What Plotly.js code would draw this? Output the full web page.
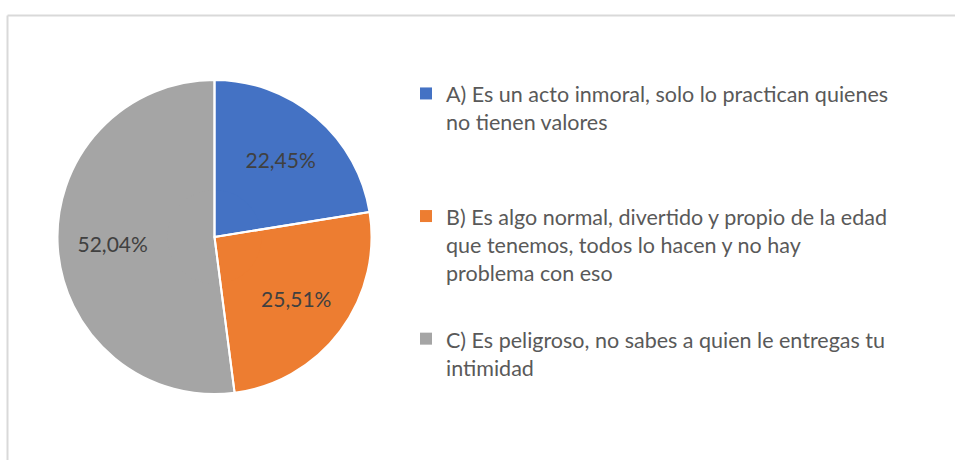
<!DOCTYPE html>
<html>
<head>
<meta charset="utf-8">
<script src="https://cdn.plot.ly/plotly-3.0.1.min.js"></script>
<style>
html,body{margin:0;padding:0;background:#fff;}
#chart{width:955px;height:460px;}
#chart .legendtext{font-size:21.5px !important;}
</style>
</head>
<body>
<div id="chart"></div>
<script>
const labels = [
  "A) Es un acto inmoral, solo lo practican quienes<br>no tienen valores<br> <br> ",
  "B) Es algo normal, divertido y propio de la edad<br>que tenemos, todos lo hacen y no hay<br>problema con eso<br> ",
  "C) Es peligroso, no sabes a quien le entregas tu<br>intimidad"
];
const values = [22.45, 25.51, 52.04];
const colors = ["#4472C4", "#ED7D31", "#A5A5A5"];

const W = 955, H = 460;
const dom = {x: [(214.5 - 157) / W, (214.5 + 157) / W], y: [(223 - 157) / H, (223 + 157) / H]};
const FONT = "Lato, 'Open Sans', sans-serif";
const common = {
  type: "pie", labels: labels, values: values, sort: false,
  direction: "clockwise", rotation: 0, hoverinfo: "none", domain: dom
};
// base pie: slice fills and legend swatches
const base = Object.assign({}, common, {
  marker: {colors: colors, line: {color: "#ffffff", width: 0}},
  textinfo: "none", showlegend: true
});
// ring carrying the percentage labels (placed further out, like Excel)
const ring = Object.assign({}, common, {
  hole: 0.3,
  marker: {colors: colors, line: {color: "#ffffff", width: 0}},
  texttemplate: "%{percent:.2%}",
  textposition: "inside",
  insidetextorientation: "horizontal",
  textfont: {family: FONT, size: 21, color: "#404040"},
  showlegend: false
});
// transparent pie on top drawing only the white separators
const sep = Object.assign({}, common, {
  marker: {colors: ["rgba(0,0,0,0)", "rgba(0,0,0,0)", "rgba(0,0,0,0)"], line: {color: "#ffffff", width: 2}},
  textinfo: "none", showlegend: false
});
const layout = {
  width: W, height: H,
  margin: {l: 0, r: 0, t: 0, b: 0},
  paper_bgcolor: "#ffffff",
  separators: ", ",
  showlegend: true,
  legend: {
    x: 406 / W, y: 1 - 72 / H, xanchor: "left", yanchor: "top",
    valign: "top",
    font: {family: FONT, size: 23, color: "#595959"},
    itemclick: false, itemdoubleclick: false
  },
  shapes: [
    {type: "line", xref: "paper", yref: "paper", x0: 7.5 / W, x1: 1, y0: 1 - 15.5 / H, y1: 1 - 15.5 / H, line: {color: "#D9D9D9", width: 2}},
    {type: "line", xref: "paper", yref: "paper", x0: 7.5 / W, x1: 7.5 / W, y0: 0, y1: 1 - 15.5 / H, line: {color: "#D9D9D9", width: 2}}
  ]
};
Plotly.newPlot("chart", [base, ring, sep], layout, {displayModeBar: false, staticPlot: true});
</script>
</body>
</html>
